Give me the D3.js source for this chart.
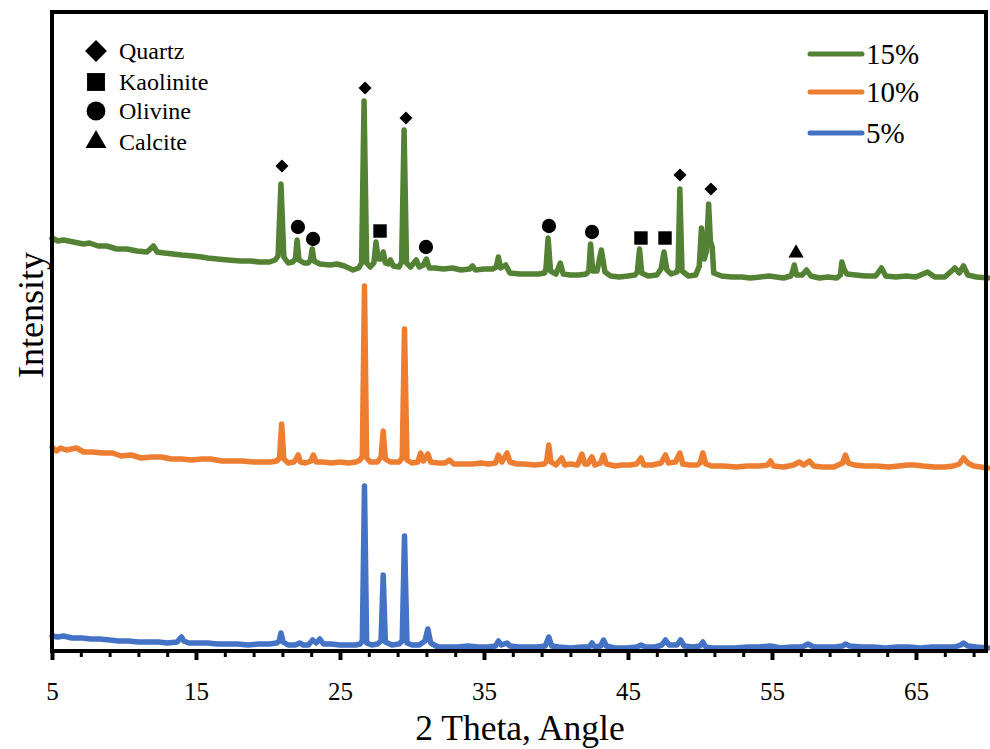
<!DOCTYPE html>
<html>
<head>
<meta charset="utf-8">
<script src="https://cdn.jsdelivr.net/npm/d3@7"></script>
<style>
  body { margin: 0; background: #fff; }
  text { font-family: "Liberation Serif", "Times New Roman", serif; fill: #000; }
</style>
</head>
<body>
<div id="chart"></div>
<script>
/* global d3 */

// Canvas
const width = 990,
  height = 749
const serif = '"Liberation Serif", "Times New Roman", serif'

// 2 Theta range and ticks
const xDomain = [5, 70]
const majorTicks = [5, 15, 25, 35, 45, 55, 65]
const minorTicks = d3.range(5, 70, 2)

// Series: [2 theta, intensity]
const green15 = [
  [5.0, 413], [5.4, 410], [5.8, 411], [6.5, 409], [7.2, 407], [7.6, 408], [8.2, 405], [8.8, 405],
  [9.5, 402], [10.2, 402], [10.9, 400], [11.6, 399], [11.9, 403], [12.05, 405], [12.3, 399], [12.8, 398],
  [13.4, 397], [14.0, 396], [14.8, 395], [15.4, 394], [15.8, 393], [16.5, 392], [17.2, 391], [18.1, 390],
  [18.8, 390], [19.4, 389], [20.1, 389], [20.5, 391], [20.7, 395], [20.9, 467], [21.1, 394], [21.4, 388],
  [21.7, 389], [21.9, 392], [22.02, 411], [22.15, 391], [22.5, 388], [22.8, 388], [22.95, 391], [23.07, 402],
  [23.2, 390], [23.6, 387], [24.3, 386], [24.8, 387], [25.3, 385], [25.9, 381], [26.3, 383], [26.5, 388],
  [26.67, 550], [26.85, 388], [27.1, 384], [27.35, 388], [27.5, 409], [27.65, 392], [27.85, 392], [28.0, 399],
  [28.15, 388], [28.35, 387], [28.5, 391], [28.7, 385], [29.1, 384], [29.28, 389], [29.45, 521], [29.62, 388],
  [29.9, 384], [30.3, 391], [30.5, 384], [30.8, 386], [31.0, 392], [31.2, 383], [31.6, 383], [32.2, 382],
  [32.8, 383], [33.4, 381], [34.0, 382], [34.2, 385], [34.4, 381], [35.0, 382], [35.6, 382], [35.85, 384],
  [36.0, 394], [36.15, 383], [36.5, 386], [36.8, 378], [37.5, 377], [38.2, 377], [38.8, 377], [39.2, 378],
  [39.3, 382], [39.45, 413], [39.62, 380], [40.0, 377], [40.3, 388], [40.5, 377], [41.0, 376], [41.6, 376],
  [42.1, 377], [42.28, 380], [42.4, 407], [42.55, 380], [42.85, 380], [43.15, 401], [43.4, 379], [43.8, 375],
  [44.4, 374], [45.0, 375], [45.5, 376], [45.65, 379], [45.8, 402], [45.95, 378], [46.4, 375], [47.0, 376],
  [47.3, 382], [47.5, 399], [47.7, 381], [48.0, 377], [48.4, 379], [48.48, 383], [48.6, 462], [48.75, 380],
  [49.2, 375], [49.7, 376], [49.95, 385], [50.1, 423], [50.3, 392], [50.45, 400], [50.6, 447], [50.72, 410],
  [50.85, 404], [50.95, 378], [51.5, 375], [52.2, 374], [52.9, 374], [53.5, 373], [54.2, 374], [54.8, 375],
  [55.3, 374], [55.8, 373], [56.3, 375], [56.4, 378], [56.55, 386], [56.7, 376], [57.1, 376], [57.4, 381],
  [57.7, 375], [58.3, 373], [58.9, 374], [59.5, 373], [59.75, 376], [59.85, 389], [60.0, 382], [60.2, 377],
  [60.8, 376], [61.5, 375], [62.2, 375], [62.6, 383], [62.9, 375], [63.6, 374], [64.3, 375], [65.0, 374],
  [65.8, 379], [66.3, 374], [67.0, 374], [67.7, 383], [68.0, 378], [68.3, 385], [68.6, 376], [69.2, 374],
  [70.0, 373]
]

const orange10 = [
  [5.0, 204], [5.3, 200], [5.6, 203], [6.0, 201], [6.7, 203], [7.2, 199], [7.8, 199], [8.5, 198],
  [9.2, 198], [9.8, 195], [10.5, 196], [11.2, 193], [11.9, 194], [12.6, 194], [13.3, 192], [14.0, 192],
  [14.7, 191], [15.4, 192], [16.0, 192], [16.8, 190], [17.5, 190], [18.2, 190], [19.0, 189], [19.6, 189],
  [20.2, 189], [20.6, 190], [20.8, 193], [20.95, 227], [21.1, 192], [21.4, 188], [21.8, 189], [21.95, 192],
  [22.1, 196], [22.25, 189], [22.6, 188], [23.0, 190], [23.15, 196], [23.35, 189], [23.8, 189], [24.4, 188],
  [25.0, 189], [25.6, 188], [26.1, 189], [26.4, 191], [26.55, 195], [26.7, 365], [26.85, 193], [27.1, 189],
  [27.6, 189], [27.85, 194], [28.0, 220], [28.15, 192], [28.5, 189], [29.1, 189], [29.32, 193], [29.48, 322],
  [29.65, 191], [30.0, 188], [30.4, 189], [30.6, 198], [30.8, 190], [31.1, 197], [31.3, 189], [31.8, 188],
  [32.3, 188], [32.6, 191], [32.9, 187], [33.6, 187], [34.2, 187], [34.8, 188], [35.3, 187], [35.8, 188],
  [36.0, 196], [36.25, 189], [36.6, 198], [36.8, 189], [37.3, 187], [37.8, 187], [38.5, 186], [39.2, 187],
  [39.35, 190], [39.5, 206], [39.65, 189], [40.0, 186], [40.4, 193], [40.6, 186], [41.0, 187], [41.5, 186],
  [41.8, 197], [42.0, 187], [42.2, 187], [42.5, 194], [42.7, 186], [43.1, 188], [43.3, 196], [43.5, 187],
  [44.1, 185], [44.6, 186], [45.1, 186], [45.6, 187], [45.9, 193], [46.1, 186], [46.7, 186], [47.3, 188],
  [47.6, 196], [47.8, 188], [48.3, 189], [48.6, 198], [48.8, 187], [49.3, 186], [49.8, 186], [50.0, 188],
  [50.2, 198], [50.4, 187], [50.8, 185], [51.6, 185], [52.5, 184], [53.3, 185], [54.1, 185], [54.7, 186],
  [54.9, 190], [55.1, 185], [55.8, 184], [56.5, 186], [56.9, 189], [57.2, 186], [57.6, 190], [57.9, 185],
  [58.5, 184], [59.3, 184], [59.9, 188], [60.1, 196], [60.3, 188], [60.7, 186], [61.4, 185], [62.2, 185],
  [63.1, 184], [63.8, 185], [64.4, 186], [64.9, 186], [65.5, 185], [66.3, 184], [67.0, 184], [67.6, 185],
  [68.0, 187], [68.3, 193], [68.6, 188], [69.0, 185], [69.5, 184], [70.0, 183]
]

const blue5 = [
  [5.0, 15], [5.4, 14], [5.8, 15], [6.4, 13], [7.1, 13], [7.7, 12], [8.3, 12], [9.0, 11],
  [9.6, 10], [10.3, 10], [11.0, 9], [11.7, 9], [12.4, 9], [13.0, 8], [13.7, 9], [13.85, 12],
  [14.0, 14], [14.15, 10], [14.5, 8], [15.1, 8], [15.8, 8], [16.5, 7], [17.2, 7], [17.9, 7],
  [18.6, 6], [19.3, 7], [20.1, 7], [20.6, 8], [20.78, 10], [20.9, 18], [21.05, 9], [21.4, 6],
  [21.9, 6], [22.2, 8], [22.45, 6], [22.8, 6], [23.1, 11], [23.35, 8], [23.6, 12], [23.85, 7],
  [24.4, 7], [25.0, 6], [25.6, 6], [26.1, 6], [26.4, 7], [26.55, 10], [26.7, 165], [26.85, 8],
  [27.2, 6], [27.6, 7], [27.85, 10], [28.0, 76], [28.15, 9], [28.6, 6], [29.1, 7], [29.32, 10],
  [29.48, 115], [29.65, 8], [30.0, 6], [30.5, 6], [30.9, 10], [31.1, 22], [31.3, 8], [31.8, 4],
  [32.5, 4], [33.2, 4], [33.9, 5], [34.6, 4], [35.3, 4], [35.8, 5], [36.0, 10], [36.2, 6],
  [36.6, 8], [36.8, 5], [37.4, 4], [38.0, 4], [38.7, 4], [39.25, 5], [39.5, 14], [39.7, 5],
  [40.2, 4], [41.0, 3], [41.8, 4], [42.3, 4], [42.5, 8], [42.7, 4], [43.1, 5], [43.3, 11],
  [43.5, 5], [44.1, 3], [44.9, 3], [45.6, 4], [45.9, 6], [46.2, 4], [46.9, 4], [47.35, 6],
  [47.6, 11], [47.85, 6], [48.4, 6], [48.65, 11], [48.9, 5], [49.5, 4], [50.0, 5], [50.2, 9],
  [50.4, 4], [50.8, 3], [51.6, 3], [52.4, 3], [53.3, 4], [54.1, 4], [54.9, 5], [55.6, 3],
  [56.4, 4], [57.1, 4], [57.5, 7], [57.9, 4], [58.6, 4], [59.4, 4], [59.9, 5], [60.1, 7],
  [60.4, 5], [61.2, 4], [62.0, 4], [62.9, 3], [63.7, 4], [64.5, 4], [65.3, 3], [66.1, 4],
  [66.9, 4], [67.7, 4], [68.1, 6], [68.3, 8], [68.6, 5], [69.2, 4], [70.0, 3]
]

// Phase markers above peaks: [2 theta, intensity]
const quartzMarks = [[20.97, 485], [26.74, 563], [29.58, 533], [48.61, 476], [50.76, 462]]
const kaoliniteMarks = [[27.78, 420], [45.9, 413], [47.57, 413]]
const olivineMarks = [[22.08, 424], [23.13, 412], [30.97, 404], [39.51, 425], [42.5, 419]]
const calciteMarks = [[56.67, 398]]

const phaseNames = ['Quartz', 'Kaolinite', 'Olivine', 'Calcite']
const seriesNames = ['15%', '10%', '5%']
const seriesColors = ['#548235', '#ED7D31', '#4472C4']

let svg = d3.select('#chart')
  .append('svg')
  .attr('width', width)
  .attr('height', height)

let x = d3.scaleLinear().domain(xDomain).range([52, 988])
let y = d3.scaleLinear().domain([0, 640]).range([651, 11])

// series lines
let line = d3.line()
  .x(d => x(d[0]))
  .y(d => y(d[1]))

;[green15, orange10, blue5].forEach((s, i) => {
  svg.append('path')
    .datum(s)
    .attr('d', line)
    .attr('fill', 'none')
    .attr('stroke', seriesColors[i])
    .attr('stroke-width', 5.5)
    .attr('stroke-linejoin', 'round')
    .attr('stroke-linecap', 'round')
})

// frame
svg.append('rect')
  .attr('x', 52).attr('y', 12)
  .attr('width', 934).attr('height', 639)
  .attr('fill', 'none')
  .attr('stroke', '#000')
  .attr('stroke-width', 4)

// x axis: minor then major ticks
let minorAxis = d3.axisBottom(x).tickValues(minorTicks).tickSize(6).tickFormat('')
let majorAxis = d3.axisBottom(x).tickValues(majorTicks).tickSize(9).tickFormat(d3.format('d'))

let gMinor = svg.append('g').attr('transform', 'translate(0,651)').call(minorAxis)
gMinor.select('.domain').remove()
gMinor.selectAll('line').attr('stroke', '#000').attr('stroke-width', 3)

let gMajor = svg.append('g').attr('transform', 'translate(0,651)').call(majorAxis)
gMajor.attr('font-family', serif)
gMajor.select('.domain').remove()
gMajor.selectAll('line').attr('stroke', '#000').attr('stroke-width', 4)
gMajor.selectAll('text')
  .attr('y', 49).attr('dy', 0)
  .style('font-size', '25px')
  .style('font-family', serif)

// axis titles
svg.append('text')
  .attr('x', 520).attr('y', 740)
  .attr('text-anchor', 'middle')
  .style('font-family', serif)
  .style('font-size', '35.5px')
  .text('2 Theta, Angle')

svg.append('text')
  .attr('transform', 'translate(43,315) rotate(-90)')
  .attr('text-anchor', 'middle')
  .style('font-family', serif)
  .style('font-size', '36px')
  .text('Intensity')

// symbols
let sym = {
  diamond: d3.symbol().type(d3.symbolSquare),
  square: d3.symbol().type(d3.symbolSquare),
  circle: d3.symbol().type(d3.symbolCircle),
  triangle: d3.symbol().type(d3.symbolTriangle)
}

let drawMarks = (data, gen, size, rot) => {
  svg.selectAll(null)
    .data(data)
    .enter()
    .append('path')
    .attr('d', gen.size(size)())
    .attr('transform', d => `translate(${x(d[0])},${y(d[1])}) rotate(${rot})`)
    .attr('fill', '#000')
}

drawMarks(quartzMarks, sym.diamond, 85, 45)
drawMarks(kaoliniteMarks, sym.square, 180, 0)
drawMarks(olivineMarks, sym.circle, 160, 0)
drawMarks(calciteMarks, sym.triangle, 100, 0)

// phase legend
let phaseSym = [
  [sym.diamond, 240, 45],
  [sym.square, 320, 0],
  [sym.circle, 280, 0],
  [sym.triangle, 190, 0]
]
let phaseRowY = [51, 82, 111, 142]
phaseNames.forEach((name, i) => {
  let p = phaseSym[i]
  svg.append('path')
    .attr('d', p[0].size(p[1])())
    .attr('transform', `translate(96,${phaseRowY[i]}) rotate(${p[2]})`)
    .attr('fill', '#000')
  svg.append('text')
    .attr('x', 119).attr('y', phaseRowY[i] + 8)
    .style('font-family', serif)
    .style('font-size', '24px')
    .text(name)
})

// series legend
let seriesRowY = [54, 92, 133]
seriesNames.forEach((name, i) => {
  svg.append('line')
    .attr('x1', 810).attr('x2', 862)
    .attr('y1', seriesRowY[i]).attr('y2', seriesRowY[i])
    .attr('stroke', seriesColors[i])
    .attr('stroke-width', 5)
    .attr('stroke-linecap', 'round')
  svg.append('text')
    .attr('x', 866).attr('y', seriesRowY[i] + 10)
    .style('font-family', serif)
    .style('font-size', '29px')
    .text(name)
})
</script>
</body>
</html>
